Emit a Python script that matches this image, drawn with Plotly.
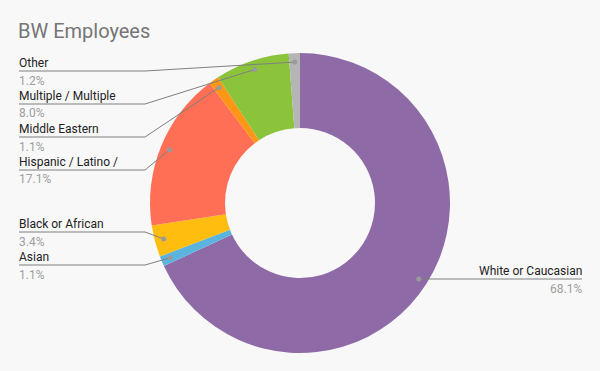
import math
import plotly.graph_objects as go

# ---- data ----
categories = ["White or Caucasian", "Asian", "Black or African", "Hispanic / Latino /",
              "Middle Eastern", "Multiple / Multiple", "Other"]
values = [68.1, 1.1, 3.4, 17.1, 1.1, 8.0, 1.2]
colors = ["#8e6aa7", "#5ab4de", "#ffbd0f", "#ff6f55", "#ff9615", "#8bc43b", "#b5b5b5"]

# ---- layout geometry (pixels) ----
W, H = 600, 371
CX, CY, R = 300, 203, 150
DOT_R = 0.94 * R
# leader-line y per label (px from top) and side
label_line_y = [279, 265, 232, 170, 137, 104, 71]
label_side = ["right", "left", "left", "left", "left", "left", "left"]
LEFT_X0, LEFT_ELBOW = 19, 145
RIGHT_X1 = 582
TEXT_PAD = 2  # annotation inner padding compensation

def px(x):
    return x / W

def py(y):
    return 1 - y / H

fig = go.Figure(go.Pie(
    labels=categories, values=values, sort=False, direction="clockwise",
    rotation=0, hole=0.5, textinfo="none",
    marker=dict(colors=colors, line=dict(width=0)),
    domain=dict(x=[px(CX - R), px(CX + R)], y=[py(CY + R), py(CY - R)]),
    showlegend=False,
))

shapes = []
annotations = []
total = sum(values)
cum = 0.0
for cat, v, ly, side in zip(categories, values, label_line_y, label_side):
    mid = (cum + v / 2) / total * 2 * math.pi
    cum += v
    dx = CX + DOT_R * math.sin(mid)
    dy = CY - DOT_R * math.cos(mid)
    pct = f"{v / total * 100:.1f}%"
    if side == "left":
        path = f"M {px(LEFT_X0)},{py(ly)} L {px(LEFT_ELBOW)},{py(ly)} L {px(dx)},{py(dy)}"
        tx, anchor = px(LEFT_X0 - TEXT_PAD), "left"
    else:
        path = f"M {px(dx)},{py(dy)} L {px(dx)},{py(ly)} L {px(RIGHT_X1)},{py(ly)}"
        tx, anchor = px(RIGHT_X1 + TEXT_PAD), "right"
    shapes.append(dict(type="path", xref="paper", yref="paper", path=path,
                       line=dict(color="#7f7f7f", width=1)))
    shapes.append(dict(type="circle", xref="paper", yref="paper",
                       x0=px(dx - 2.5), x1=px(dx + 2.5), y0=py(dy + 2.5), y1=py(dy - 2.5),
                       fillcolor="#9a9a9a", line=dict(width=0)))
    annotations.append(dict(x=tx, y=py(ly - 8.5), xref="paper", yref="paper",
                            xanchor=anchor, yanchor="middle", showarrow=False, text=cat,
                            font=dict(family="Roboto", size=12, color="#222222")))
    annotations.append(dict(x=tx, y=py(ly + 9.5), xref="paper", yref="paper",
                            xanchor=anchor, yanchor="middle", showarrow=False, text=pct,
                            font=dict(family="Roboto", size=12, color="#9e9e9e")))

annotations.append(dict(x=px(16), y=py(30.5), xref="paper", yref="paper",
                        xanchor="left", yanchor="middle", showarrow=False,
                        text="BW Employees",
                        font=dict(family="Roboto", size=20, color="#757575")))

fig.update_layout(
    width=W, height=H, margin=dict(l=0, r=0, t=0, b=0),
    paper_bgcolor="#f8f8f8", plot_bgcolor="#f8f8f8",
    shapes=shapes, annotations=annotations,
)

fig.write_html("out.html", config={"displayModeBar": False},
               post_script="document.body.style.margin='0';")
